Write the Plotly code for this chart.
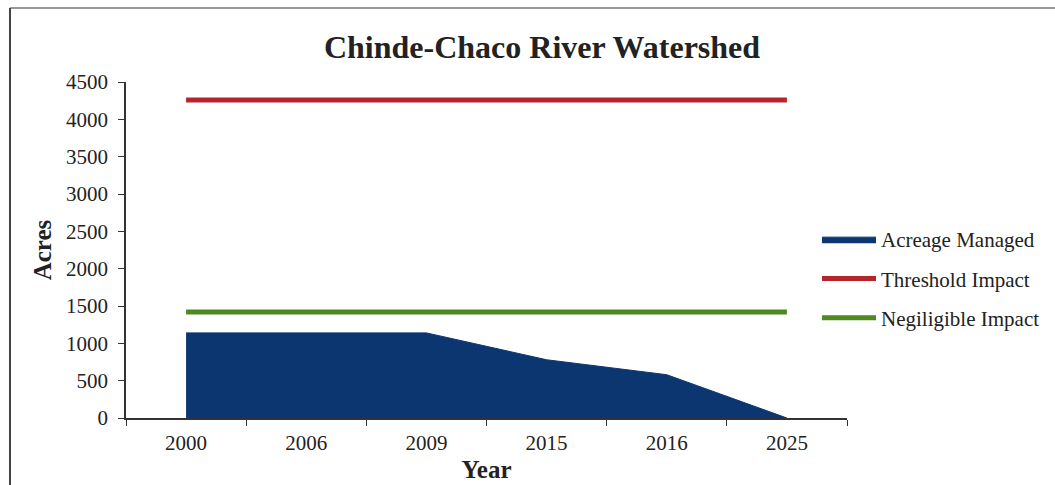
import plotly.graph_objects as go

years = ["2000", "2006", "2009", "2015", "2016", "2025"]
acreage_managed = [1140, 1140, 1140, 780, 580, 0]
threshold_impact = [4260, 4260, 4260, 4260, 4260, 4260]
negligible_impact = [1420, 1420, 1420, 1420, 1420, 1420]

FONT = "Liberation Serif"
BLUE = "#0c3670"
RED = "#b3262c"
GREEN = "#4e8a1f"

fig = go.Figure()
fig.add_trace(go.Scatter(
    x=years, y=acreage_managed, name="Acreage Managed", mode="lines",
    line=dict(color=BLUE, width=1), fill="tozeroy", fillcolor=BLUE,
    legendgroup="a"))
fig.add_trace(go.Scatter(
    x=years, y=threshold_impact, name="Threshold Impact", mode="lines",
    line=dict(color=RED, width=5), legendgroup="b"))
fig.add_trace(go.Scatter(
    x=years, y=negligible_impact, name="Negiligible Impact", mode="lines",
    line=dict(color=GREEN, width=5), legendgroup="c"))

L, R, T, B = 126, 208, 82, 67
W, H = 1055, 485
pw, ph = W - L - R, H - T - B

def px_x(p):
    return (p - L) / pw

def px_y(p):
    return (H - B - p) / ph

fig.update_layout(
    width=W, height=H,
    margin=dict(l=L, r=R, t=T, b=B, autoexpand=False),
    paper_bgcolor="white", plot_bgcolor="white",
    font=dict(family=FONT, size=21, color="#222222"),
    title=dict(text="<b>Chinde-Chaco River Watershed</b>",
               font=dict(family=FONT, size=32, color="#222222"),
               x=px_x(542), xref="paper", xanchor="center",
               y=1 - 47 / H, yref="container", yanchor="middle"),
    showlegend=True,
    legend=dict(x=px_x(817), xanchor="left", y=px_y(219), yanchor="top",
                font=dict(family=FONT, size=21, color="#222222"),
                itemwidth=54, tracegroupgap=9, bgcolor="rgba(0,0,0,0)"),
    xaxis=dict(type="category", range=[-0.5, 5.5], tickson="boundaries",
               ticks="outside", ticklen=6, tickcolor="#333333",
               ticklabelstandoff=5,
               showline=True, linecolor="#333333", linewidth=1.5,
               showgrid=False, zeroline=False, automargin=False,
               tickfont=dict(family=FONT, size=21, color="#222222"),
               title=dict(text="<b>Year</b>", standoff=7,
                          font=dict(family=FONT, size=25, color="#222222"))),
    yaxis=dict(range=[0, 4500], tick0=0, dtick=500,
               ticks="outside", ticklen=6, tickcolor="#333333",
               ticklabelstandoff=6,
               showline=True, linecolor="#333333", linewidth=1.5,
               showgrid=False, zeroline=False, automargin=False,
               tickfont=dict(family=FONT, size=21, color="#222222"),
               title=dict(text="<b>Acres</b>", standoff=7,
                          font=dict(family=FONT, size=25, color="#222222"))),
)

# chart frame (top and left border)
fig.add_shape(type="line", xref="paper", yref="paper",
              x0=px_x(10), x1=px_x(1055), y0=px_y(8), y1=px_y(8),
              line=dict(color="#999999", width=2))
fig.add_shape(type="line", xref="paper", yref="paper",
              x0=px_x(10), x1=px_x(10), y0=px_y(8), y1=px_y(485),
              line=dict(color="#444444", width=2))

fig.write_html("out.html", config={"displayModeBar": False},
               post_script="document.body.style.margin='0';document.body.style.overflow='hidden';")
